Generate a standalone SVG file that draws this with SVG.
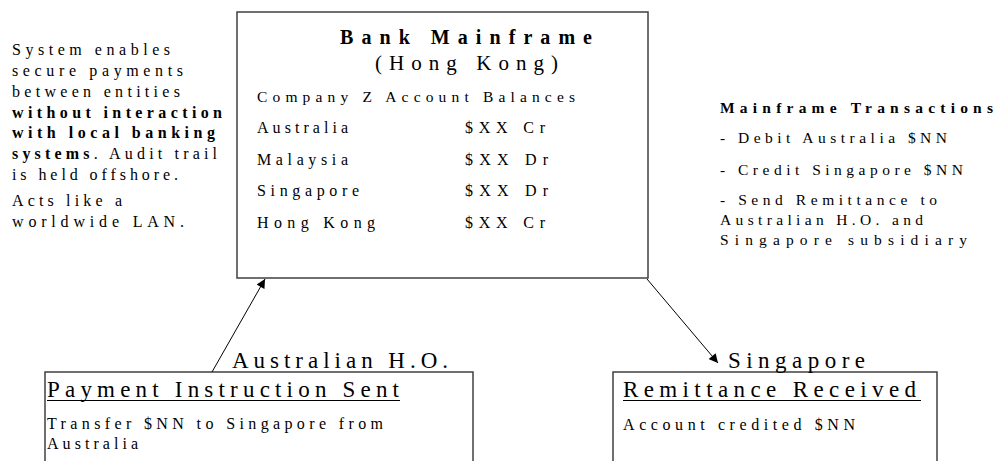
<svg xmlns="http://www.w3.org/2000/svg" width="996" height="461" viewBox="0 0 996 461">
<style>
text{font-family:"Liberation Serif","Times New Roman",serif;fill:#000;}
.b{font-size:16px;}
.s{font-size:15.5px;}
.bd{font-weight:bold;}
.big{font-size:23px;}
.box{fill:#fff;stroke:#404040;stroke-width:1.5;}
.con{stroke:#000;stroke-width:1;fill:none;}
.ul{stroke:#000;stroke-width:1.2;}
</style>
<defs>
<marker id="ah" viewBox="0 0 10 10" refX="10" refY="5" markerWidth="10" markerHeight="9" markerUnits="userSpaceOnUse" orient="auto">
<path d="M0,0 L10,5 L0,10 z" fill="#000"/>
</marker>
</defs>
<g id="note-left">
<text class="b" x="12" y="55" textLength="158" lengthAdjust="spacing">System enables</text>
<text class="b" x="12" y="76" textLength="171" lengthAdjust="spacing">secure payments</text>
<text class="b" x="12" y="97" textLength="168" lengthAdjust="spacing">between entities</text>
<text class="b bd" x="12" y="118" textLength="210" lengthAdjust="spacing">without interaction</text>
<text class="b bd" x="12" y="138" textLength="203" lengthAdjust="spacing">with local banking</text>
<text class="b" x="12" y="159" textLength="205" lengthAdjust="spacing"><tspan class="bd">systems</tspan>. Audit trail</text>
<text class="b" x="12" y="180" textLength="166" lengthAdjust="spacing">is held offshore.</text>
<text class="b" x="12" y="206" textLength="110" lengthAdjust="spacing">Acts like a</text>
<text class="b" x="12" y="227" textLength="172" lengthAdjust="spacing">worldwide LAN.</text>
</g>
<g id="mainframe">
<rect class="box" x="237" y="12" width="411" height="266"/>
<text class="bd" style="font-size:20px" x="340" y="44" textLength="252" lengthAdjust="spacing">Bank Mainframe</text>
<text style="font-size:21px" x="375" y="70" textLength="183" lengthAdjust="spacing">(Hong Kong)</text>
<text class="s" x="257" y="102" textLength="318" lengthAdjust="spacing">Company Z Account Balances</text>
<text class="b" x="257" y="133" textLength="91" lengthAdjust="spacing">Australia</text>
<text class="b" x="465" y="133" textLength="80" lengthAdjust="spacing">$XX Cr</text>
<text class="b" x="257" y="165" textLength="91" lengthAdjust="spacing">Malaysia</text>
<text class="b" x="465" y="165" textLength="83" lengthAdjust="spacing">$XX Dr</text>
<text class="b" x="257" y="196" textLength="102" lengthAdjust="spacing">Singapore</text>
<text class="b" x="465" y="196" textLength="83" lengthAdjust="spacing">$XX Dr</text>
<text class="b" x="257" y="228" textLength="118" lengthAdjust="spacing">Hong Kong</text>
<text class="b" x="465" y="228" textLength="80" lengthAdjust="spacing">$XX Cr</text>
</g>
<g id="note-right">
<text class="s bd" x="720" y="113" textLength="273" lengthAdjust="spacing">Mainframe Transactions</text>
<text class="s" x="720" y="143" textLength="227" lengthAdjust="spacing">- Debit Australia $NN</text>
<text class="s" x="720" y="175" textLength="243" lengthAdjust="spacing">- Credit Singapore $NN</text>
<text class="s" x="720" y="205" textLength="217" lengthAdjust="spacing">- Send Remittance to</text>
<text class="s" x="720" y="225" textLength="203" lengthAdjust="spacing">Australian H.O. and</text>
<text class="s" x="720" y="245" textLength="247" lengthAdjust="spacing">Singapore subsidiary</text>
</g>
<g id="australian-ho">
<rect class="box" x="45" y="372" width="428" height="100"/>
<text class="big" x="232" y="368" textLength="216" lengthAdjust="spacing">Australian H.O.</text>
<text class="big" x="47" y="397" textLength="352" lengthAdjust="spacing">Payment Instruction Sent</text>
<line class="ul" x1="47" y1="400.5" x2="400" y2="400.5"/>
<text class="b" x="47" y="429" textLength="336" lengthAdjust="spacing">Transfer $NN to Singapore from</text>
<text class="b" x="47" y="449" textLength="91" lengthAdjust="spacing">Australia</text>
</g>
<g id="singapore">
<rect class="box" x="613" y="372" width="324" height="100"/>
<text class="big" x="728" y="368" textLength="137" lengthAdjust="spacing">Singapore</text>
<text class="big" x="623" y="397" textLength="293" lengthAdjust="spacing">Remittance Received</text>
<line class="ul" x1="623" y1="400.5" x2="921" y2="400.5"/>
<text class="b" x="623" y="430" textLength="232" lengthAdjust="spacing">Account credited $NN</text>
</g>
<g id="connectors">
<line class="con" x1="212" y1="372" x2="265" y2="279" marker-end="url(#ah)"/>
<line class="con" x1="647" y1="279" x2="718" y2="363" marker-end="url(#ah)"/>
</g>
</svg>
